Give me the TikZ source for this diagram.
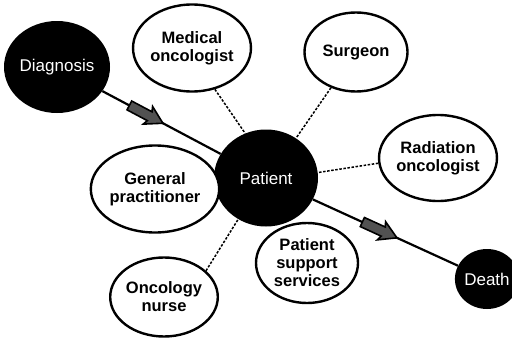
\documentclass[tikz,border=0pt]{standalone}
\usepackage{fontspec}
\setmainfont{Liberation Sans}
\usetikzlibrary{shapes.geometric}
\begin{document}
\begin{tikzpicture}[x=1pt,y=-1pt,
  role/.style={ellipse, draw=black, line width=2.4pt, fill=white, align=center, inner sep=0pt,
    font=\fontsize{16.5}{18}\selectfont\bfseries},
  stage/.style={ellipse, fill=black, inner sep=0pt, text=white, font=\fontsize{17}{19}\selectfont},
  flow/.style={line width=2.2pt},
  link/.style={line width=1.5pt, dash pattern=on 2.5pt off 1.6pt},
  blockarr/.pic={\draw[line width=1.6pt, fill=black!68, line join=miter]
    (-19,-5) -- (4,-5) -- (2,-10) -- (19,0) -- (2,10) -- (4,5) -- (-19,5) -- cycle;}
]
\useasboundingbox (0,0) rectangle (512,340);
\node[stage, minimum width=106pt, minimum height=92pt] (diag) at (57,67) {Diagnosis};
\node[stage, minimum width=104pt, minimum height=97pt] (pat) at (266,178) {Patient};
\node[stage, minimum width=61pt, minimum height=60pt] (death) at (487,279) {Death};

\node[role, minimum width=111pt, minimum height=87pt] (med) at (192,48) {Medical\\oncologist};
\node[role, minimum width=103pt, minimum height=79pt] (surg) at (356,52) {Surgeon};
\node[role, minimum width=114pt, minimum height=86pt] (rad) at (438,158) {Radiation\\oncologist};
\node[role, minimum width=114pt, minimum height=87pt] (gp) at (155,189) {General\\practitioner};
\node[role, minimum width=105pt, minimum height=79pt] (nurse) at (164,297) {Oncology\\nurse};
\node[role, minimum width=102pt, minimum height=80pt] (pss) at (307,263) {Patient\\support\\services};

\draw[flow] (diag) -- pic[pos=0.37, sloped]{blockarr} (pat);
\draw[flow] (pat) -- pic[pos=0.46, sloped]{blockarr} (death);
\draw[link] (med.-61) -- (pat.115);
\draw[link] (surg.-125) -- (pat.53);
\draw[link] (rad.185) -- (pat.6);
\draw[link] (nurse.32) -- (pat.-124);
\end{tikzpicture}
\end{document}
